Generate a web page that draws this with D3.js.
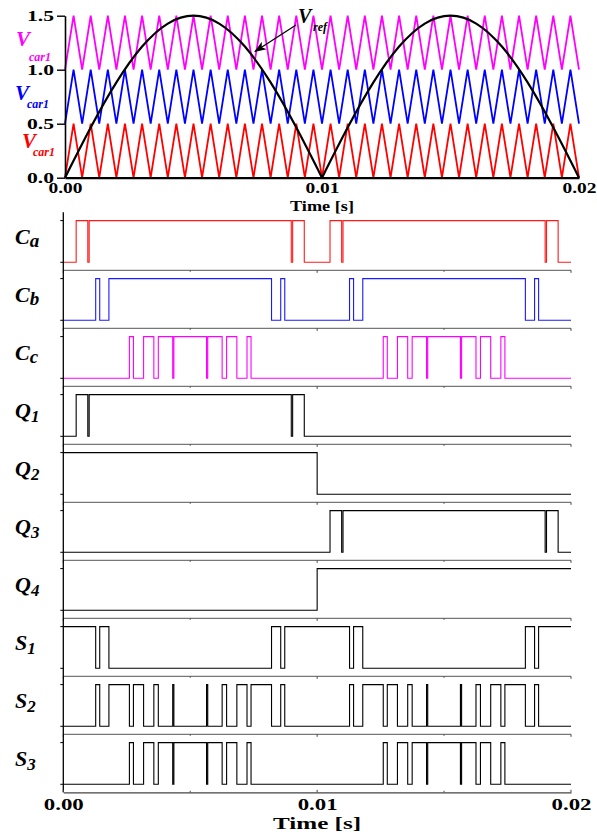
<!DOCTYPE html>
<html>
<head>
<meta charset="utf-8">
<script src="https://cdn.jsdelivr.net/npm/d3@7/dist/d3.min.js"></script>
<style>
body { margin: 0; background: #fff; }
text { font-family: "Liberation Serif", "DejaVu Serif", serif; font-weight: bold; }
</style>
</head>
<body>
<svg width="597" height="835"></svg>
<script>
// time is kept in ms, 0..20 ms = 0.00..0.02 s
const timeTicks = [0, 10, 20]
const timeTickLabels = ['0.00', '0.01', '0.02']
const minorTicks = [0, 5, 10, 15, 20]
const levelTicks = [0, 0.5, 1.0, 1.5]

// triangle carriers (30 periods in 20 ms)
const carrierTimes = [0, 0.333, 0.667, 1, 1.333, 1.667, 2, 2.333, 2.667, 3, 3.333, 3.667, 4, 4.333, 4.667, 5,
  5.333, 5.667, 6, 6.333, 6.667, 7, 7.333, 7.667, 8, 8.333, 8.667, 9, 9.333, 9.667, 10,
  10.333, 10.667, 11, 11.333, 11.667, 12, 12.333, 12.667, 13, 13.333, 13.667, 14, 14.333, 14.667, 15,
  15.333, 15.667, 16, 16.333, 16.667, 17, 17.333, 17.667, 18, 18.333, 18.667, 19, 19.333, 19.667, 20]
const carrierUnit = [0, 0.5, 0, 0.5, 0, 0.5, 0, 0.5, 0, 0.5, 0, 0.5, 0, 0.5, 0, 0.5, 0, 0.5, 0, 0.5, 0, 0.5, 0, 0.5,
  0, 0.5, 0, 0.5, 0, 0.5, 0, 0.5, 0, 0.5, 0, 0.5, 0, 0.5, 0, 0.5, 0, 0.5, 0, 0.5, 0, 0.5, 0, 0.5,
  0, 0.5, 0, 0.5, 0, 0.5, 0, 0.5, 0, 0.5, 0, 0.5, 0]
const carrierBases = [1.0, 0.5, 0.0]
const carrierColors = ['#ff00ff', '#0000ff', '#ff0000']
const carrierLabels = ['car1', 'car1', 'car1']

// rectified reference
const vrefTimes = [0, 1, 2, 3, 4, 5, 6, 7, 8, 9, 10, 11, 12, 13, 14, 15, 16, 17, 18, 19, 20]
const vrefValues = [0, 0.464, 0.882, 1.214, 1.427, 1.5, 1.427, 1.214, 0.882, 0.464, 0,
  0.464, 0.882, 1.214, 1.427, 1.5, 1.427, 1.214, 0.882, 0.464, 0]

// gate signals: start level + switching instants (ms)
const signalNames = ['Ca', 'Cb', 'Cc', 'Q1', 'Q2', 'Q3', 'Q4', 'S1', 'S2', 'S3']
const signalLetters = ['C', 'C', 'C', 'Q', 'Q', 'Q', 'Q', 'S', 'S', 'S']
const signalSubs = ['a', 'b', 'c', '1', '2', '3', '4', '1', '2', '3']
const signalColors = ['#ff1a1a', '#1a1aff', '#ff00ff', '#000', '#000', '#000', '#000', '#000', '#000', '#000']
const signalStart = [0, 0, 0, 0, 1, 0, 0, 1, 0, 0]

const caToggles = [0.507, 0.965, 1.019, 8.981, 9.035, 9.493, 10.507, 10.965, 11.019, 18.981, 19.035, 19.493]
const cbToggles = [1.276, 1.435, 1.797, 8.203, 8.565, 8.724, 11.276, 11.435, 11.797, 18.203, 18.565, 18.724]
const ccToggles = [2.604, 2.763, 3.163, 3.567, 3.743, 4.310, 4.356, 5.644, 5.690, 6.257, 6.433, 6.837, 7.237, 7.396,
  12.604, 12.763, 13.163, 13.567, 13.743, 14.310, 14.356, 15.644, 15.690, 16.257, 16.433, 16.837, 17.237, 17.396]
const q1Toggles = [0.507, 0.965, 1.019, 8.981, 9.035, 9.493]
const q2Toggles = [10]
const q3Toggles = [10.507, 10.965, 11.019, 18.981, 19.035, 19.493]
const q4Toggles = [10]
const s1Toggles = [1.276, 1.435, 1.797, 8.203, 8.565, 8.724, 11.276, 11.435, 11.797, 18.203, 18.565, 18.724]
const s2Toggles = [1.276, 1.435, 1.797, 2.604, 2.763, 3.163, 3.567, 3.743, 4.310, 4.356, 5.644, 5.690, 6.257, 6.433,
  6.837, 7.237, 7.396, 8.203, 8.565, 8.724,
  11.276, 11.435, 11.797, 12.604, 12.763, 13.163, 13.567, 13.743, 14.310, 14.356, 15.644, 15.690, 16.257, 16.433,
  16.837, 17.237, 17.396, 18.203, 18.565, 18.724]
const s3Toggles = [2.604, 2.763, 3.163, 3.567, 3.743, 4.310, 4.356, 5.644, 5.690, 6.257, 6.433, 6.837, 7.237, 7.396,
  12.604, 12.763, 13.163, 13.567, 13.743, 14.310, 14.356, 15.644, 15.690, 16.257, 16.433, 16.837, 17.237, 17.396]
const signalToggles = [caToggles, cbToggles, ccToggles, q1Toggles, q2Toggles, q3Toggles, q4Toggles, s1Toggles, s2Toggles, s3Toggles]

let svg = d3.select('svg')

// ---------- top panel ----------
let xTop = d3.scaleLinear().domain([0, 20]).range([65, 579])
let yTop = d3.scaleLinear().domain([0, 1.5]).range([177.7, 15.7])

let topG = svg.append('g')

carrierBases.forEach((base, c) => {
  let line = d3.line()
    .x(d => xTop(d[0]))
    .y(d => yTop(d[1]))
  topG.append('path')
    .datum(carrierTimes.map((t, i) => [t, base + carrierUnit[i]]))
    .attr('d', line)
    .attr('fill', 'none')
    .attr('stroke', carrierColors[c])
    .attr('stroke-width', 1.8)
    .attr('stroke-linejoin', 'miter')
})

let vrefLine = d3.line()
  .x(d => xTop(d[0]))
  .y(d => yTop(d[1]))
  .curve(d3.curveNatural)
let vrefPts = vrefTimes.map((t, i) => [t, vrefValues[i]])
;[vrefPts.slice(0, 11), vrefPts.slice(10)].forEach(half => {
  topG.append('path')
    .datum(half)
    .attr('d', vrefLine)
    .attr('fill', 'none')
    .attr('stroke', '#000')
    .attr('stroke-width', 2.2)
})

// axes
let yAxisTop = topG.append('g')
  .attr('transform', 'translate(' + xTop(0) + ',0)')
  .call(d3.axisLeft(yTop).tickValues(levelTicks).tickFormat(d3.format('.1f'))
    .tickSize(8).tickPadding(3).tickSizeOuter(0))
yAxisTop.select('.domain').attr('stroke', '#000').attr('stroke-width', 1.6)
yAxisTop.selectAll('.tick line').attr('stroke', '#000').attr('stroke-width', 1.4)
yAxisTop.selectAll('.tick text')
  .attr('font-size', 14).attr('fill', '#000')
  .attr('textLength', 27).attr('lengthAdjust', 'spacingAndGlyphs')
  .attr('font-family', null)

let xAxisTop = topG.append('g')
  .attr('transform', 'translate(0,' + yTop(0) + ')')
  .call(d3.axisBottom(xTop).tickValues(timeTicks).tickFormat((d, i) => timeTickLabels[i])
    .tickSize(0).tickPadding(5).tickSizeOuter(0))
xAxisTop.select('.domain').attr('stroke', '#000').attr('stroke-width', 2.2)
xAxisTop.selectAll('.tick text')
  .attr('font-size', 15).attr('fill', '#000')
  .attr('textLength', 34).attr('lengthAdjust', 'spacingAndGlyphs')
  .attr('font-family', null)

topG.append('text')
  .attr('x', 322).attr('y', 211)
  .attr('text-anchor', 'middle')
  .attr('font-size', 15)
  .attr('textLength', 64).attr('lengthAdjust', 'spacingAndGlyphs')
  .text('Time [s]')

// carrier labels
const labelSpots = [[16, 46, 29, 60.5], [15, 100, 27, 108], [22, 148, 33, 156]]
carrierBases.forEach((base, c) => {
  let p = labelSpots[c]
  topG.append('text')
    .attr('x', p[0]).attr('y', p[1])
    .attr('font-size', 21).attr('font-style', 'italic')
    .attr('fill', carrierColors[c])
    .text('V')
  topG.append('text')
    .attr('x', p[2]).attr('y', p[3])
    .attr('font-size', 12).attr('font-style', 'italic')
    .attr('fill', carrierColors[c])
    .text(carrierLabels[c])
})

// V_ref label and arrow
svg.append('defs').append('marker')
  .attr('id', 'arrow')
  .attr('viewBox', '0 -5 12 10')
  .attr('refX', 11).attr('refY', 0)
  .attr('markerWidth', 12).attr('markerHeight', 10)
  .attr('markerUnits', 'userSpaceOnUse')
  .attr('orient', 'auto')
  .append('path')
  .attr('d', 'M0,-4.5L12,0L0,4.5L3,0Z')
  .attr('fill', '#000')

topG.append('line')
  .attr('x1', 296).attr('y1', 25)
  .attr('x2', 255).attr('y2', 51.5)
  .attr('stroke', '#000').attr('stroke-width', 1.3)
  .attr('marker-end', 'url(#arrow)')
topG.append('text')
  .attr('x', 298).attr('y', 23)
  .attr('font-size', 20).attr('font-style', 'italic')
  .text('V')
topG.append('text')
  .attr('x', 313).attr('y', 31)
  .attr('font-size', 12).attr('font-style', 'italic')
  .text('ref')

// ---------- switching panels ----------
let xBot = d3.scaleLinear().domain([0, 20]).range([63.3, 571])
let band = d3.scaleBand().domain(signalNames).range([212.3, 792.3]).paddingInner(0)

let botG = svg.append('g')

signalNames.forEach((name, s) => {
  let y0 = band(name)
  let yLevel = d3.scaleLinear().domain([0, 1]).range([y0 + 50, y0 + 8.3])

  // panel bottom rule
  if (s < signalNames.length - 1) {
    botG.append('line')
      .attr('x1', xBot(0)).attr('x2', xBot(20))
      .attr('y1', y0 + band.bandwidth()).attr('y2', y0 + band.bandwidth())
      .attr('stroke', '#555').attr('stroke-width', 1)
    minorTicks.forEach(t => {
      botG.append('line')
        .attr('x1', xBot(t)).attr('x2', xBot(t))
        .attr('y1', y0 + band.bandwidth()).attr('y2', y0 + band.bandwidth() + (t % 10 === 0 ? 2.5 : 1.5))
        .attr('stroke', '#444').attr('stroke-width', 1)
    })
  }

  // level ticks on the left axis
  ;[0, 1].forEach(v => {
    botG.append('line')
      .attr('x1', xBot(0) - 3).attr('x2', xBot(0))
      .attr('y1', yLevel(v)).attr('y2', yLevel(v))
      .attr('stroke', '#000').attr('stroke-width', 1)
  })

  // step trace
  let level = signalStart[s]
  let pts = [[0, level]]
  signalToggles[s].forEach(t => {
    level = 1 - level
    pts.push([t, level])
  })
  pts.push([20, level])

  let step = d3.line()
    .x(d => xBot(d[0]))
    .y(d => yLevel(d[1]))
    .curve(d3.curveStepAfter)
  botG.append('path')
    .datum(pts)
    .attr('d', step)
    .attr('fill', 'none')
    .attr('stroke', signalColors[s])
    .attr('stroke-width', 1.1)

  // label
  let isDigit = /[0-9]/.test(signalSubs[s])
  let lab = botG.append('text')
    .attr('x', 15).attr('y', y0 + 32)
    .attr('font-style', 'italic')
    .attr('fill', '#000')
  lab.append('tspan').attr('font-size', 22).text(signalLetters[s])
  lab.append('tspan')
    .attr('font-size', isDigit ? 17 : 19)
    .attr('dy', isDigit ? 4 : 3)
    .text(signalSubs[s])
})

// left axis line
botG.append('line')
  .attr('x1', xBot(0)).attr('x2', xBot(0))
  .attr('y1', 212.3).attr('y2', 792.3)
  .attr('stroke', '#000').attr('stroke-width', 1.3)

// bottom time axis
let xAxisBot = botG.append('g')
  .attr('transform', 'translate(0,792.3)')
  .call(d3.axisBottom(xBot).tickValues(timeTicks).tickFormat((d, i) => timeTickLabels[i])
    .tickSize(0).tickPadding(6).tickSizeOuter(0))
xAxisBot.select('.domain').attr('stroke', '#444').attr('stroke-width', 1.2)
xAxisBot.selectAll('.tick text')
  .attr('font-size', 16).attr('fill', '#000')
  .attr('textLength', 40).attr('lengthAdjust', 'spacingAndGlyphs')
  .attr('font-family', null)
minorTicks.forEach(t => {
  botG.append('line')
    .attr('x1', xBot(t)).attr('x2', xBot(t))
    .attr('y1', 792.3).attr('y2', 792.3 - (t % 10 === 0 ? 2.5 : 1.5))
    .attr('stroke', '#444').attr('stroke-width', 1)
})

botG.append('text')
  .attr('x', 317).attr('y', 829)
  .attr('text-anchor', 'middle')
  .attr('font-size', 17)
  .attr('textLength', 88).attr('lengthAdjust', 'spacingAndGlyphs')
  .text('Time [s]')
</script>
</body>
</html>
